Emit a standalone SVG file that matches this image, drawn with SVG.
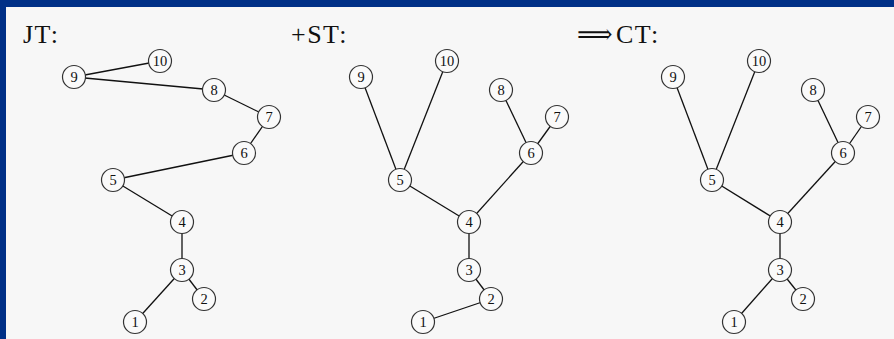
<svg xmlns="http://www.w3.org/2000/svg" width="894" height="339" viewBox="0 0 894 339">
<style>
.bg{fill:#f7f7f7}
.frame{fill:#003087}
.title{font-family:"Liberation Serif","DejaVu Serif",serif;font-size:26px;fill:#111;letter-spacing:1.5px}
.edge{stroke:#111;stroke-width:1.3;fill:none}
.node circle{fill:#fafafa;stroke:#333;stroke-width:1.2}
.node text{font-family:"Liberation Serif","DejaVu Serif",serif;font-size:14.5px;fill:#111;text-anchor:middle;dominant-baseline:central}
</style>
<rect class="frame" x="0" y="0" width="894" height="339"/>
<rect class="bg" x="6" y="7" width="888" height="332"/>
<text class="title" x="23" y="43">JT:</text>
<text class="title" x="291" y="43">+ST:</text>
<text class="title" x="577" y="43" textLength="37" lengthAdjust="spacingAndGlyphs">⟹</text>
<text class="title" x="616" y="43">CT:</text>

<g id="connectors">
<!-- JT -->
<line class="edge" x1="74" y1="77" x2="160" y2="61"/>
<line class="edge" x1="74" y1="77" x2="214" y2="90"/>
<line class="edge" x1="214" y1="90" x2="269" y2="117"/>
<line class="edge" x1="269" y1="117" x2="244" y2="153"/>
<line class="edge" x1="244" y1="153" x2="113" y2="180"/>
<line class="edge" x1="113" y1="180" x2="182" y2="222"/>
<line class="edge" x1="182" y1="222" x2="182" y2="270"/>
<line class="edge" x1="182" y1="270" x2="204" y2="299"/>
<line class="edge" x1="182" y1="270" x2="135" y2="322"/>
<!-- ST -->
<line class="edge" x1="361" y1="77" x2="400" y2="180"/>
<line class="edge" x1="447" y1="61" x2="400" y2="180"/>
<line class="edge" x1="501" y1="90" x2="531" y2="153"/>
<line class="edge" x1="557" y1="117" x2="531" y2="153"/>
<line class="edge" x1="531" y1="153" x2="469" y2="222"/>
<line class="edge" x1="400" y1="180" x2="469" y2="222"/>
<line class="edge" x1="469" y1="222" x2="469" y2="270"/>
<line class="edge" x1="469" y1="270" x2="491" y2="299"/>
<line class="edge" x1="491" y1="299" x2="423" y2="322"/>
<!-- CT -->
<line class="edge" x1="673" y1="77" x2="712" y2="180"/>
<line class="edge" x1="759" y1="61" x2="712" y2="180"/>
<line class="edge" x1="813" y1="90" x2="843" y2="153"/>
<line class="edge" x1="868" y1="117" x2="843" y2="153"/>
<line class="edge" x1="843" y1="153" x2="780" y2="222"/>
<line class="edge" x1="712" y1="180" x2="780" y2="222"/>
<line class="edge" x1="780" y1="222" x2="780" y2="270"/>
<line class="edge" x1="780" y1="270" x2="803" y2="299"/>
<line class="edge" x1="780" y1="270" x2="734" y2="322"/>
</g>

<!-- JT nodes -->
<g id="jt1" class="node"><circle cx="135" cy="322" r="11.5"/><text x="135" y="322">1</text></g>
<g id="jt2" class="node"><circle cx="204" cy="299" r="11.5"/><text x="204" y="299">2</text></g>
<g id="jt3" class="node"><circle cx="182" cy="270" r="11.5"/><text x="182" y="270">3</text></g>
<g id="jt4" class="node"><circle cx="182" cy="222" r="11.5"/><text x="182" y="222">4</text></g>
<g id="jt5" class="node"><circle cx="113" cy="180" r="11.5"/><text x="113" y="180">5</text></g>
<g id="jt6" class="node"><circle cx="244" cy="153" r="11.5"/><text x="244" y="153">6</text></g>
<g id="jt7" class="node"><circle cx="269" cy="117" r="11.5"/><text x="269" y="117">7</text></g>
<g id="jt8" class="node"><circle cx="214" cy="90" r="11.5"/><text x="214" y="90">8</text></g>
<g id="jt9" class="node"><circle cx="74" cy="77" r="11.5"/><text x="74" y="77">9</text></g>
<g id="jt10" class="node"><circle cx="160" cy="61" r="11.5"/><text x="160" y="61">10</text></g>

<!-- ST nodes -->
<g id="st1" class="node"><circle cx="423" cy="322" r="11.5"/><text x="423" y="322">1</text></g>
<g id="st2" class="node"><circle cx="491" cy="299" r="11.5"/><text x="491" y="299">2</text></g>
<g id="st3" class="node"><circle cx="469" cy="270" r="11.5"/><text x="469" y="270">3</text></g>
<g id="st4" class="node"><circle cx="469" cy="222" r="11.5"/><text x="469" y="222">4</text></g>
<g id="st5" class="node"><circle cx="400" cy="180" r="11.5"/><text x="400" y="180">5</text></g>
<g id="st6" class="node"><circle cx="531" cy="153" r="11.5"/><text x="531" y="153">6</text></g>
<g id="st7" class="node"><circle cx="557" cy="117" r="11.5"/><text x="557" y="117">7</text></g>
<g id="st8" class="node"><circle cx="501" cy="90" r="11.5"/><text x="501" y="90">8</text></g>
<g id="st9" class="node"><circle cx="361" cy="77" r="11.5"/><text x="361" y="77">9</text></g>
<g id="st10" class="node"><circle cx="447" cy="61" r="11.5"/><text x="447" y="61">10</text></g>

<!-- CT nodes -->
<g id="ct1" class="node"><circle cx="734" cy="322" r="11.5"/><text x="734" y="322">1</text></g>
<g id="ct2" class="node"><circle cx="803" cy="299" r="11.5"/><text x="803" y="299">2</text></g>
<g id="ct3" class="node"><circle cx="780" cy="270" r="11.5"/><text x="780" y="270">3</text></g>
<g id="ct4" class="node"><circle cx="780" cy="222" r="11.5"/><text x="780" y="222">4</text></g>
<g id="ct5" class="node"><circle cx="712" cy="180" r="11.5"/><text x="712" y="180">5</text></g>
<g id="ct6" class="node"><circle cx="843" cy="153" r="11.5"/><text x="843" y="153">6</text></g>
<g id="ct7" class="node"><circle cx="868" cy="117" r="11.5"/><text x="868" y="117">7</text></g>
<g id="ct8" class="node"><circle cx="813" cy="90" r="11.5"/><text x="813" y="90">8</text></g>
<g id="ct9" class="node"><circle cx="673" cy="77" r="11.5"/><text x="673" y="77">9</text></g>
<g id="ct10" class="node"><circle cx="759" cy="61" r="11.5"/><text x="759" y="61">10</text></g>
</svg>
